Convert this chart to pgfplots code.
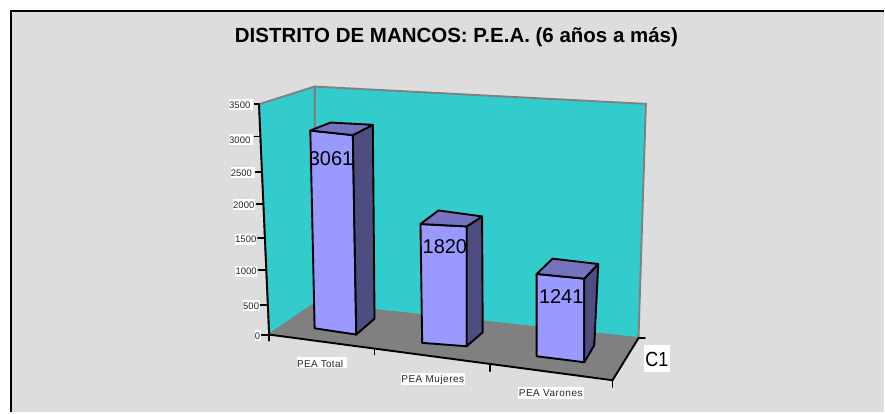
\documentclass[border=0pt]{standalone}
\usepackage{pgfplots}
\pgfplotsset{compat=1.18}
\usepackage{fontspec}
\setmainfont{Liberation Sans}
\definecolor{bgc}{HTML}{DDDDDD}
\definecolor{wallc}{HTML}{33CCCC}
\definecolor{floorc}{HTML}{808080}
\definecolor{frontc}{HTML}{9999FF}
\definecolor{sidec}{HTML}{4D4D80}
\definecolor{topc}{HTML}{7373BF}
\newfontfamily\spfont[LetterSpace=5]{Liberation Sans}
\newfontfamily\spfontb[LetterSpace=3]{Liberation Sans}
\newcommand\lab[7]{%
  \fill[white] (axis cs:#1,#2) rectangle (axis cs:#3,#4);
  \node[anchor=west,inner sep=0pt,black!85] at (axis cs:#5,#6) {#7};
}
\newcommand\tk[1]{\fontsize{9.5}{10}\selectfont #1}
\newcommand\cat[1]{\spfont\fontsize{10}{11}\selectfont #1}
\newcommand\seg[4]{\addplot[black,line width=1.9pt,line cap=round] coordinates {(#1,#2) (#3,#4)};}
\begin{document}
\begin{tikzpicture}
\begin{axis}[
  scale only axis, width=885pt, height=413pt,
  xmin=0, xmax=885, ymin=0, ymax=413, y dir=reverse,
  hide axis, clip=false, axis line style={draw=none}, tick style={draw=none}]
% page and panel
\addplot[fill=white,draw=none] coordinates {(0,0) (885,0) (885,413) (0,413)} --cycle;
\addplot[fill=bgc,draw=none] coordinates {(10,10) (885,10) (885,413) (10,413)} --cycle;
\addplot[black,line width=2.2pt] coordinates {(11,413) (11,11) (885,11)};
% walls and floor
\addplot[fill=wallc,draw=floorc,line width=1.9pt] coordinates {(315,86.7) (646.7,104) (639.3,338.5) (315,304)} --cycle;
\addplot[fill=wallc,draw=floorc,line width=1.9pt] coordinates {(259.3,104.3) (315,86.7) (315,304) (269.5,335)} --cycle;
\addplot[fill=floorc,draw=floorc,line width=.6pt] coordinates {(269.5,335) (315,304) (639.3,338.5) (613.3,380.7)} --cycle;
% axes
\seg{259.3}{104.3}{269.5}{335}
\seg{269.5}{335}{613.3}{380.7}
\seg{613.3}{380.7}{639.3}{338.5}
% y ticks
\seg{255}{104.3}{259.3}{104.3}
\seg{255}{136.7}{260.5}{136.7}
\seg{256}{172.3}{261.7}{172.3}
\seg{257}{204.7}{263.3}{204.7}
\seg{258.5}{238.3}{265}{238.3}
\seg{259}{270.7}{265.7}{270.7}
\seg{260}{305}{266.7}{305}
\seg{262}{335}{269.5}{335}
% x ticks
\seg{269.5}{335}{269.5}{341}
\seg{375}{349}{375}{355}
\seg{491}{365}{491}{371.7}
\seg{613.3}{380.7}{613.3}{387.3}
\seg{639.3}{338.4}{645.7}{338.4}
% tick labels
\lab{229}{99}{253.3}{110}{229.3}{105.8}{\tk{3500}}
\lab{229}{134}{253.3}{145}{229.3}{140.2}{\tk{3000}}
\lab{231}{167.5}{255}{178.5}{231}{173.8}{\tk{2500}}
\lab{233}{199.5}{255}{210.5}{233.3}{205.8}{\tk{2000}}
\lab{235}{234}{256}{245}{235.3}{240}{\tk{1500}}
\lab{235.5}{266}{257}{277}{235.7}{272}{\tk{1000}}
\lab{243}{300}{260}{311}{243.3}{306.4}{\tk{500}}
\lab{255}{330}{261}{341}{255}{336.4}{\tk{0}}
\lab{297.3}{357.3}{347}{368.7}{297.3}{364}{\spfontb\fontsize{10}{11}\selectfont PEA Total}
\lab{401}{373.5}{466}{385}{401.7}{380}{\cat{PEA Mujeres}}
\lab{519}{387}{585}{399}{519.3}{394}{\cat{PEA Varones}}
\fill[white] (axis cs:645,345) rectangle (axis cs:671,372.7);
\node[anchor=west,inner sep=0pt] at (axis cs:646,359.5) {\scalebox{.92}[1.05]{\fontsize{19.5}{20}\selectfont C1}};
% bar 1 : 3061
\addplot[fill=frontc,draw=black,line width=1.9pt,line join=round] coordinates {(310.7,130.7) (353.3,135.3) (356.7,335) (315,328.7)} --cycle;
\addplot[fill=sidec,draw=black,line width=1.9pt,line join=round] coordinates {(353.3,135.3) (373.3,125) (375,319) (356.7,335)} --cycle;
\addplot[fill=topc,draw=black,line width=1.9pt,line join=round] coordinates {(310.7,130.7) (331,122.7) (373.3,125) (353.3,135.3)} --cycle;
% bar 2 : 1820
\addplot[fill=frontc,draw=black,line width=1.9pt,line join=round] coordinates {(421,224.3) (467.3,226.7) (467.3,346.7) (422.7,343.3)} --cycle;
\addplot[fill=sidec,draw=black,line width=1.9pt,line join=round] coordinates {(467.3,226.7) (482.7,216.7) (483.3,332.7) (467.3,346.7)} --cycle;
\addplot[fill=topc,draw=black,line width=1.9pt,line join=round] coordinates {(421,224.3) (439,210.7) (482.7,216.7) (467.3,226.7)} --cycle;
% bar 3 : 1241
\addplot[fill=frontc,draw=black,line width=1.9pt,line join=round] coordinates {(537.3,274.3) (585,279) (585,362.7) (537.3,356.7)} --cycle;
\addplot[fill=sidec,draw=black,line width=1.9pt,line join=round] coordinates {(585,279) (599,264.3) (595,345.7) (585,362.7)} --cycle;
\addplot[fill=topc,draw=black,line width=1.9pt,line join=round] coordinates {(537.3,274.3) (553.3,259) (599,264.3) (585,279)} --cycle;
% data labels
\node[anchor=west,inner sep=0pt] at (axis cs:309,159.3) {\fontsize{20}{20}\selectfont 3061};
\node[anchor=west,inner sep=0pt] at (axis cs:423,247) {\fontsize{20}{20}\selectfont 1820};
\node[anchor=west,inner sep=0pt] at (axis cs:539.5,297) {\fontsize{20}{20}\selectfont 1241};
% title
\node[inner sep=0pt] at (axis cs:457,37.5) {\fontsize{20.5}{22}\selectfont\bfseries DISTRITO DE MANCOS: P.E.A. (6 años a más)};
\end{axis}
\end{tikzpicture}
\end{document}
